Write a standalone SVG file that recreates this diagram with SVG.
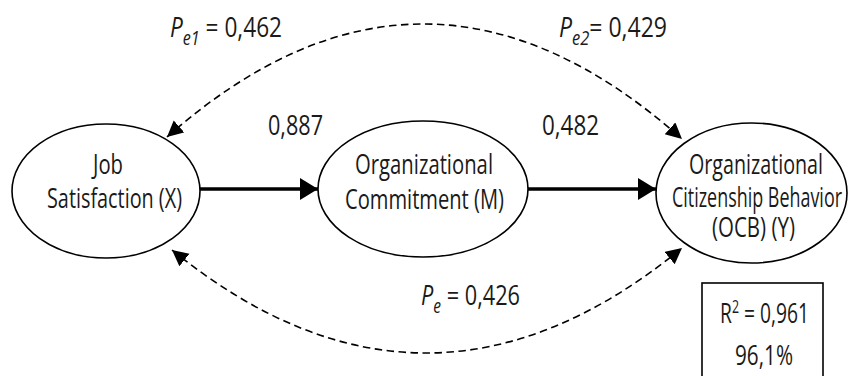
<svg xmlns="http://www.w3.org/2000/svg" width="848" height="376" viewBox="0 0 848 376">
<style>
  .node ellipse { fill: #ffffff; stroke: #000000; stroke-width: 1.6; }
  text { font-family: "Open Sans", "Noto Sans", "Liberation Sans", sans-serif; fill: #1a1a1a; }
  .nt { font-size: 26.5px; }
  .lb { font-size: 28px; }
  .it { font-style: italic; }
  .sub { font-size: 20px; font-style: italic; }
  .sup { font-size: 18px; }
  .solid { fill: none; stroke: #000000; stroke-width: 3.5; }
  .dash { fill: none; stroke: #000000; stroke-width: 1.6; stroke-dasharray: 7.5 4.5; }
  .box { fill: none; stroke: #000000; stroke-width: 1.6; }
</style>
<defs>
  <marker id="bigHead" markerUnits="userSpaceOnUse" markerWidth="20" markerHeight="24" refX="18" refY="11" orient="auto">
    <path d="M0,0 L18,11 L0,22 Z" fill="#000000"/>
  </marker>
  <marker id="dashHead" markerUnits="userSpaceOnUse" markerWidth="17" markerHeight="18" refX="16" refY="8" orient="auto-start-reverse">
    <path d="M0,0 L16,8 L0,16 Z" fill="#000000"/>
  </marker>
</defs>

<rect width="848" height="376" fill="#ffffff"/>

<g id="connectors">
  <line class="solid" x1="200" y1="189" x2="318" y2="189" marker-end="url(#bigHead)"/>
  <line class="solid" x1="528" y1="189" x2="656" y2="189" marker-end="url(#bigHead)"/>
  <path class="dash" d="M167,137 Q424,-90 682,139" marker-start="url(#dashHead)" marker-end="url(#dashHead)"/>
  <path class="dash" d="M172,250 Q427,457 682,248" marker-start="url(#dashHead)" marker-end="url(#dashHead)"/>
</g>

<g id="node-x" class="node">
  <ellipse cx="106" cy="191" rx="94" ry="67"/>
  <text class="nt" x="93" y="174" textLength="30" lengthAdjust="spacingAndGlyphs">Job</text>
  <text class="nt" x="47" y="208" textLength="135" lengthAdjust="spacingAndGlyphs">Satisfaction (X)</text>
</g>

<g id="node-m" class="node">
  <ellipse cx="423" cy="189" rx="105" ry="68"/>
  <text class="nt" x="355" y="174" textLength="138" lengthAdjust="spacingAndGlyphs">Organizational</text>
  <text class="nt" x="345" y="209" textLength="159" lengthAdjust="spacingAndGlyphs">Commitment (M)</text>
</g>

<g id="node-y" class="node">
  <ellipse cx="751.5" cy="193" rx="95.5" ry="70"/>
  <text class="nt" x="689" y="174" textLength="134" lengthAdjust="spacingAndGlyphs">Organizational</text>
  <text class="nt" x="672" y="207" textLength="170" lengthAdjust="spacingAndGlyphs">Citizenship Behavior</text>
  <text class="nt" x="712" y="237" textLength="83" lengthAdjust="spacingAndGlyphs">(OCB) (Y)</text>
</g>

<g id="labels">
  <text class="lb" x="268" y="135" textLength="55" lengthAdjust="spacingAndGlyphs">0,887</text>
  <text class="lb" x="542" y="135" textLength="57" lengthAdjust="spacingAndGlyphs">0,482</text>
  <text class="lb" x="170" y="37" textLength="112" lengthAdjust="spacingAndGlyphs"><tspan class="it">P</tspan><tspan class="sub" dy="8">e1</tspan><tspan dy="-8"> = 0,462</tspan></text>
  <text class="lb" x="559" y="37" textLength="108" lengthAdjust="spacingAndGlyphs"><tspan class="it">P</tspan><tspan class="sub" dy="8">e2</tspan><tspan dy="-8">= 0,429</tspan></text>
  <text class="lb" x="421" y="305" textLength="99" lengthAdjust="spacingAndGlyphs"><tspan class="it">P</tspan><tspan class="sub" dy="8">e</tspan><tspan dy="-8"> = 0,426</tspan></text>
</g>

<g id="r2-box">
  <rect class="box" x="702" y="283" width="121" height="110"/>
  <text class="lb" x="720" y="323" textLength="89" lengthAdjust="spacingAndGlyphs">R<tspan class="sup" dy="-10">2</tspan><tspan dy="10"> = 0,961</tspan></text>
  <text class="lb" x="735" y="365" textLength="58" lengthAdjust="spacingAndGlyphs">96,1%</text>
</g>
</svg>
